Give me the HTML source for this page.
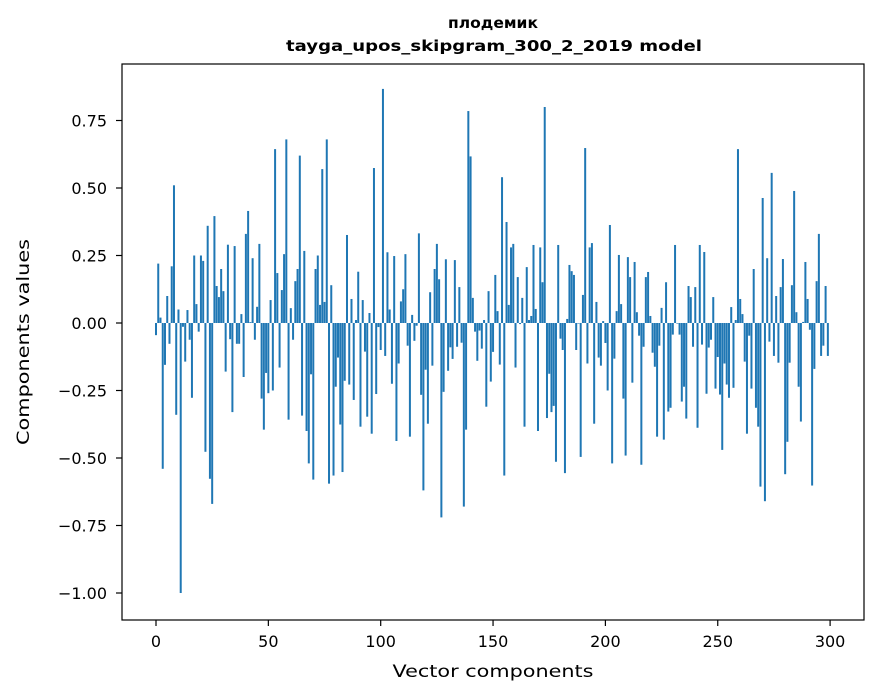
<!DOCTYPE html>
<html><head><meta charset="utf-8"><style>
body{margin:0;background:#fff}
svg{display:block;font-family:"DejaVu Sans","Liberation Sans",sans-serif}
</style></head><body>
<svg id="chart" width="880" height="696" xmlns="http://www.w3.org/2000/svg">
<rect width="880" height="696" fill="#fff"/>
<text x="493" y="28" text-anchor="middle" font-size="15" font-weight="bold" textLength="90" lengthAdjust="spacingAndGlyphs">плодемик</text>
<text x="494" y="51" text-anchor="middle" font-size="15" font-weight="bold" textLength="416" lengthAdjust="spacingAndGlyphs">tayga_upos_skipgram_300_2_2019 model</text>
<g id="bars"></g>
<rect x="122" y="64" width="742" height="556" fill="none" stroke="#000" stroke-width="1.2"/>
<g id="xaxis"></g>
<g id="yaxis"></g>
<text x="493" y="677" text-anchor="middle" font-size="17" textLength="201" lengthAdjust="spacingAndGlyphs">Vector components</text>
<text transform="translate(29,342) rotate(-90)" text-anchor="middle" font-size="17" textLength="206" lengthAdjust="spacingAndGlyphs">Components values</text>
</svg>
<script>
const values = [
-0.045,0.22,0.02,-0.54,-0.155,0.10,-0.077,0.21,0.51,-0.34,
0.05,-1.0,-0.014,-0.143,0.048,-0.062,-0.277,0.25,0.07,-0.032,
0.25,0.23,-0.477,0.36,-0.577,-0.67,0.396,0.137,0.096,0.2,
0.118,-0.18,0.29,-0.06,-0.33,0.285,-0.077,-0.077,0.033,-0.2,
0.33,0.415,0.003,0.24,-0.062,0.06,0.293,-0.28,-0.395,-0.185,
-0.26,0.085,-0.25,0.644,0.185,-0.165,0.122,0.255,0.68,-0.358,
0.055,-0.062,0.155,0.2,0.62,-0.343,0.267,-0.40,-0.52,-0.19,
-0.58,0.2,0.25,0.067,0.57,0.078,0.68,-0.595,0.14,-0.565,
-0.236,-0.128,-0.376,-0.552,-0.214,0.326,-0.228,0.089,-0.285,0.011,
0.19,-0.384,0.085,-0.106,-0.347,0.037,-0.41,0.574,-0.263,-0.015,
-0.1,0.867,-0.122,0.262,0.05,-0.225,0.248,-0.437,-0.150,0.08,
0.125,0.255,-0.084,-0.421,0.03,-0.066,-0.01,0.332,-0.266,-0.62,
-0.173,-0.373,0.114,-0.158,0.2,0.293,0.162,-0.72,-0.255,0.236,
-0.177,-0.09,-0.133,0.233,-0.088,0.133,-0.073,-0.68,-0.395,0.785,
0.617,0.093,-0.032,-0.14,-0.028,-0.095,0.011,-0.31,0.118,-0.217,
-0.107,0.178,0.044,-0.154,0.54,-0.565,0.374,0.067,0.28,0.293,
-0.165,0.17,-0.004,0.093,-0.384,0.207,0.011,0.026,0.289,0.052,
-0.40,0.28,0.151,0.8,-0.352,-0.188,-0.33,-0.307,-0.514,0.289,
-0.058,-0.1,-0.556,0.015,0.215,0.192,0.178,-0.1,-0.002,-0.496,
0.104,0.648,-0.15,0.28,0.296,-0.373,0.078,-0.128,-0.158,0.007,
-0.074,-0.25,0.363,-0.52,-0.132,0.044,0.252,0.07,-0.28,-0.491,
0.244,0.17,-0.221,0.226,0.04,-0.047,-0.525,-0.088,0.17,0.189,
0.026,-0.11,-0.162,-0.421,-0.084,0.056,-0.432,0.151,-0.328,-0.314,
-0.043,0.289,-0.002,-0.043,-0.291,-0.236,-0.354,0.137,0.096,-0.088,
0.133,-0.388,0.289,-0.08,0.263,-0.262,-0.091,-0.062,0.096,-0.243,
-0.126,-0.265,-0.47,-0.15,-0.228,-0.277,0.059,-0.24,0.011,0.644,
0.089,0.033,-0.143,-0.41,-0.047,-0.243,0.2,-0.314,-0.384,-0.606,
0.463,-0.66,0.24,-0.069,0.556,-0.122,0.1,-0.147,0.133,0.237,
-0.56,-0.44,-0.147,0.14,0.489,0.04,-0.236,-0.365,0.004,0.226,
0.089,-0.025,-0.602,-0.17,0.155,0.33,-0.122,-0.084,0.137,-0.122
];
const xTicks = [0,50,100,150,200,250,300];
const yTicks = [0.75,0.5,0.25,0,-0.25,-0.5,-0.75,-1.0];
const yTickLabels = ["0.75","0.50","0.25","0.00","\u22120.25","\u22120.50","\u22120.75","\u22121.00"];

const NS = "http://www.w3.org/2000/svg";
function xs(v){return 156 + 2.247*v;}
function ys(v){return 323 - 270*v;}
const bars = document.getElementById('bars');
values.forEach((v,i)=>{
  const r = document.createElementNS(NS,'rect');
  const y0 = ys(Math.max(v,0)), y1 = ys(Math.min(v,0));
  r.setAttribute('x', xs(i)-1);
  r.setAttribute('y', y0);
  r.setAttribute('width', 2);
  r.setAttribute('height', Math.max(y1-y0,0.3));
  r.setAttribute('fill', '#1f77b4');
  
  
  bars.appendChild(r);
});
const xa = document.getElementById('xaxis');
xTicks.forEach(t=>{
  const l = document.createElementNS(NS,'line');
  l.setAttribute('x1', xs(t)); l.setAttribute('x2', xs(t));
  l.setAttribute('y1', 620); l.setAttribute('y2', 626);
  l.setAttribute('stroke', '#000'); l.setAttribute('stroke-width', 1.2);
  
  
  xa.appendChild(l);
  const tx = document.createElementNS(NS,'text');
  tx.setAttribute('x', xs(t)); tx.setAttribute('y', 647);
  tx.setAttribute('text-anchor', 'middle'); tx.setAttribute('font-size', '16');
  tx.textContent = t;
  
  
  xa.appendChild(tx);
});
const ya = document.getElementById('yaxis');
yTicks.forEach((t,k)=>{
  const l = document.createElementNS(NS,'line');
  l.setAttribute('x1', 116); l.setAttribute('x2', 122);
  l.setAttribute('y1', ys(t)); l.setAttribute('y2', ys(t));
  l.setAttribute('stroke', '#000'); l.setAttribute('stroke-width', 1.2);
  
  
  ya.appendChild(l);
  const tx = document.createElementNS(NS,'text');
  tx.setAttribute('x', 107); tx.setAttribute('y', ys(t)+6);
  tx.setAttribute('text-anchor', 'end'); tx.setAttribute('font-size', '16');
  tx.textContent = yTickLabels[k];
  
  
  ya.appendChild(tx);
});
</script>
</body></html>
